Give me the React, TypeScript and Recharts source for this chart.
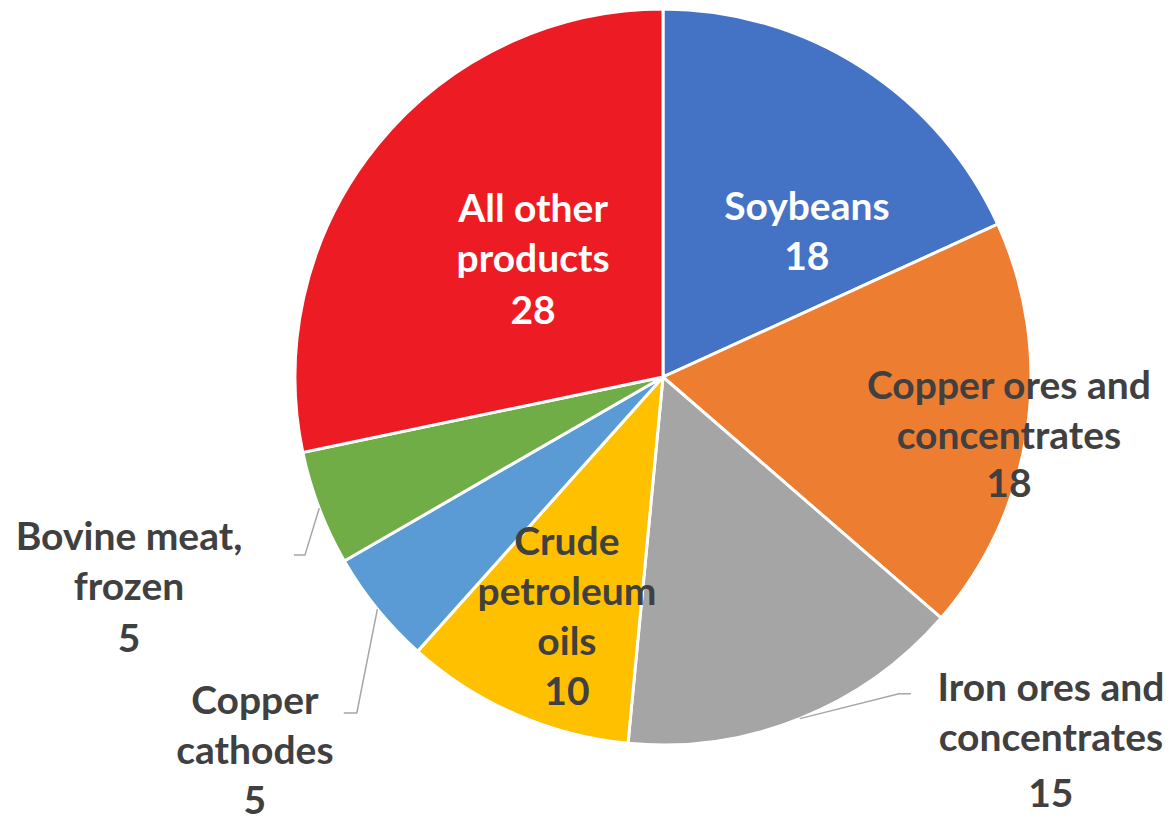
import { PieChart, Pie, Cell } from "recharts";

const PRODUCTS = [
  "Soybeans",
  "Copper ores and concentrates",
  "Iron ores and concentrates",
  "Crude petroleum oils",
  "Copper cathodes",
  "Bovine meat, frozen",
  "All other products",
];

const SHARES = [18, 18, 15, 10, 5, 5, 28];

// label text split into lines as in the original
const LABEL_LINES = [
  ["Soybeans"],
  ["Copper ores and", "concentrates"],
  ["Iron ores and", "concentrates"],
  ["Crude", "petroleum", "oils"],
  ["Copper", "cathodes"],
  ["Bovine meat,", "frozen"],
  ["All other", "products"],
];

const COLORS = ["#4472C4", "#ED7D31", "#A5A5A5", "#FFC000", "#5B9BD5", "#70AD47", "#ED1C24"];
const LABEL_FILL = ["#FFFFFF", "#404040", "#404040", "#404040", "#404040", "#404040", "#FFFFFF"];

// label block centres, in units of the outer radius from the pie centre
const LABEL_AT: [number, number][] = [
  [0.391, -0.399],
  [0.94, 0.151],
  [1.054, 0.984],
  [-0.261, 0.647],
  [-1.109, 1.01],
  [-1.451, 0.569],
  [-0.353, -0.324],
];

// extra space before the value line
const VALUE_GAP = [0, -2, 6, 0, 0, 2, 2];

// leader line elbows (radius units) and horizontal tail length; null = no leader
const LEADER: ([number, number, number] | null)[] = [
  null,
  null,
  [0.641, 0.861, 12],
  null,
  [-0.832, 0.913, -13],
  [-0.973, 0.484, -11],
  null,
];

const data = PRODUCTS.map((name, i) => ({ name, value: SHARES[i] }));

const RAD = Math.PI / 180;
const LINE_H = 50;

function renderLabel(props: any) {
  const { cx, cy, midAngle, outerRadius, index, value } = props;
  const [fx, fy] = LABEL_AT[index];
  const x = cx + fx * outerRadius;
  const y = cy + fy * outerRadius;
  const lines = [...LABEL_LINES[index], String(value)];
  const top = y - ((lines.length - 1) * LINE_H + VALUE_GAP[index]) / 2;
  const lead = LEADER[index];
  let path = null;
  if (lead) {
    const sx = cx + outerRadius * Math.cos(-midAngle * RAD);
    const sy = cy + outerRadius * Math.sin(-midAngle * RAD);
    const ex = cx + lead[0] * outerRadius;
    const ey = cy + lead[1] * outerRadius;
    path = (
      <polyline
        points={`${sx},${sy} ${ex},${ey} ${ex + lead[2]},${ey}`}
        fill="none"
        stroke="#A6A6A6"
        strokeWidth={1.5}
      />
    );
  }
  return (
    <g key={`lbl-${index}`}>
      {path}
      <text
        x={x}
        y={top}
        textAnchor="middle"
        dominantBaseline="central"
        fill={LABEL_FILL[index]}
        fontFamily="Lato, sans-serif"
        fontWeight={700}
        fontSize={39}
      >
        {lines.map((l, j) => (
          <tspan
            key={j}
            x={x}
            y={top + j * LINE_H + (j === lines.length - 1 ? VALUE_GAP[index] : 0)}
          >
            {l}
          </tspan>
        ))}
      </text>
    </g>
  );
}

export default function App() {
  return (
    <div style={{ position: "absolute", left: 0, top: 0, width: 1171, height: 818, background: "#fff" }}>
      <PieChart width={1171} height={818} margin={{ top: 0, right: 0, bottom: 0, left: 0 }}>
        <Pie
          data={data}
          dataKey="value"
          cx={663}
          cy={377}
          outerRadius={368}
          startAngle={90}
          endAngle={-270}
          stroke="#FFFFFF"
          strokeWidth={3}
          label={renderLabel}
          labelLine={false}
          isAnimationActive={false}
        >
          {data.map((_, i) => (
            <Cell key={i} fill={COLORS[i]} />
          ))}
        </Pie>
      </PieChart>
    </div>
  );
}
